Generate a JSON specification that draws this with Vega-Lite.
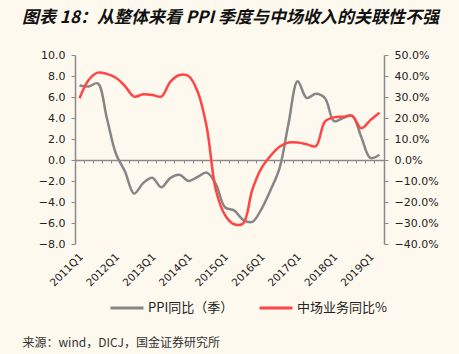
{
  "$schema": "https://vega.github.io/schema/vega-lite/v6.json",
  "width": 309,
  "height": 189,
  "autosize": {"type": "none"},
  "padding": {"left": 75, "top": 55, "right": 75, "bottom": 110},
  "background": "#FEF9EF",
  "config": {
    "view": {"stroke": null},
    "font": "DejaVu Sans",
    "axis": {"labelFont": "DejaVu Sans", "labelFontSize": 11, "labelColor": "#222222", "domainColor": "#8a8a8a", "tickColor": "#8a8a8a", "grid": false, "domainWidth": 1.5, "tickWidth": 1},
    "legend": {"orient": "none", "legendX": 34, "legendY": 235, "direction": "horizontal", "symbolType": "stroke", "symbolSize": 1089, "symbolStrokeWidth": 3, "labelFont": "Noto Sans CJK SC", "labelFontSize": 13, "labelColor": "#222222", "labelOffset": 3, "columnPadding": 19, "title": null}
  },
  "title": {"text": "图表 18：从整体来看 PPI 季度与中场收入的关联性不强", "anchor": "start", "frame": "group", "dx": -53, "offset": 22, "font": "Noto Sans CJK SC", "fontSize": 17, "fontWeight": "bold", "fontStyle": "italic", "color": "#111111"},
  "data": {"values": [
    {"q": "2011Q1", "ppi": 7.1, "mid": 29.4},
    {"q": "2011Q2", "ppi": 7.0, "mid": 38.1},
    {"q": "2011Q3", "ppi": 7.3, "mid": 41.6},
    {"q": "2011Q4", "ppi": 4.0, "mid": 41.0},
    {"q": "2012Q1", "ppi": 0.6, "mid": 39.2},
    {"q": "2012Q2", "ppi": -1.1, "mid": 35.2},
    {"q": "2012Q3", "ppi": -3.2, "mid": 30.2},
    {"q": "2012Q4", "ppi": -2.2, "mid": 31.3},
    {"q": "2013Q1", "ppi": -1.7, "mid": 31.0},
    {"q": "2013Q2", "ppi": -2.6, "mid": 30.2},
    {"q": "2013Q3", "ppi": -1.7, "mid": 37.3},
    {"q": "2013Q4", "ppi": -1.4, "mid": 40.5},
    {"q": "2014Q1", "ppi": -2.0, "mid": 40.0},
    {"q": "2014Q2", "ppi": -1.6, "mid": 32.5},
    {"q": "2014Q3", "ppi": -1.2, "mid": 15.5},
    {"q": "2014Q4", "ppi": -2.3, "mid": -14.3},
    {"q": "2015Q1", "ppi": -4.5, "mid": -26.2},
    {"q": "2015Q2", "ppi": -4.8, "mid": -30.6},
    {"q": "2015Q3", "ppi": -5.7, "mid": -30.2},
    {"q": "2015Q4", "ppi": -5.9, "mid": -14.3},
    {"q": "2016Q1", "ppi": -4.7, "mid": -4.0},
    {"q": "2016Q2", "ppi": -2.9, "mid": 1.9},
    {"q": "2016Q3", "ppi": -0.8, "mid": 6.3},
    {"q": "2016Q4", "ppi": 3.5, "mid": 8.3},
    {"q": "2017Q1", "ppi": 7.5, "mid": 8.3},
    {"q": "2017Q2", "ppi": 5.9, "mid": 7.5},
    {"q": "2017Q3", "ppi": 6.3, "mid": 6.6},
    {"q": "2017Q4", "ppi": 5.9, "mid": 18.3},
    {"q": "2018Q1", "ppi": 3.7, "mid": 20.3},
    {"q": "2018Q2", "ppi": 4.0, "mid": 20.6},
    {"q": "2018Q3", "ppi": 4.2, "mid": 21.0},
    {"q": "2018Q4", "ppi": 2.2, "mid": 15.1},
    {"q": "2019Q1", "ppi": 0.2, "mid": 19.0},
    {"q": "2019Q2", "ppi": 0.5, "mid": 22.5}
  ]},
  "layer": [
    {
      "mark": {"type": "line", "interpolate": "catmull-rom", "strokeWidth": 2.5},
      "encoding": {
        "x": {"field": "q", "type": "ordinal", "sort": null,
          "scale": {"type": "band", "paddingInner": 0, "paddingOuter": 0},
          "axis": {"orient": "bottom", "values": ["2011Q1", "2012Q1", "2013Q1", "2014Q1", "2015Q1", "2016Q1", "2017Q1", "2018Q1", "2019Q1"],
            "labelAngle": -45, "labelAlign": "right", "labelBaseline": "middle", "labelPadding": 11, "labelOffset": 2, "labelFontSize": 10.5,
            "domain": false, "ticks": false,
            "title": "来源：wind，DICJ，国金证券研究所", "titleX": -53, "titleY": 98, "titleAlign": "left", "titleAnchor": "start", "titleBaseline": "middle",
            "titleFont": "Noto Sans CJK SC", "titleFontSize": 12, "titleFontWeight": "normal", "titleColor": "#333333"}},
        "y": {"field": "ppi", "type": "quantitative",
          "scale": {"domain": [-8, 10], "nice": false, "zero": false},
          "axis": {"orient": "left", "values": [-8, -6, -4, -2, 0, 2, 4, 6, 8, 10], "format": ".1f", "title": null, "tickSize": 4, "labelPadding": 6}},
        "color": {"datum": "PPI同比（季）", "scale": {"domain": ["PPI同比（季）", "中场业务同比%"], "range": ["#868686", "#FF4545"]}}
      }
    },
    {
      "mark": {"type": "line", "interpolate": "catmull-rom", "strokeWidth": 2.5},
      "encoding": {
        "x": {"field": "q", "type": "ordinal", "sort": null,
          "axis": {"orient": "bottom", "offset": -84, "labels": false, "domain": true, "ticks": true, "tickSize": 3, "bandPosition": 0, "title": null}},
        "y": {"field": "mid", "type": "quantitative",
          "scale": {"domain": [-40, 50], "nice": false, "zero": false},
          "axis": {"orient": "right", "values": [-40, -30, -20, -10, 0, 10, 20, 30, 40, 50], "labelExpr": "format(datum.value, '.1f') + '%'", "title": null, "tickSize": 4, "labelPadding": 6}},
        "color": {"datum": "中场业务同比%"}
      }
    }
  ],
  "resolve": {"scale": {"y": "independent"}, "axis": {"x": "independent"}}
}
